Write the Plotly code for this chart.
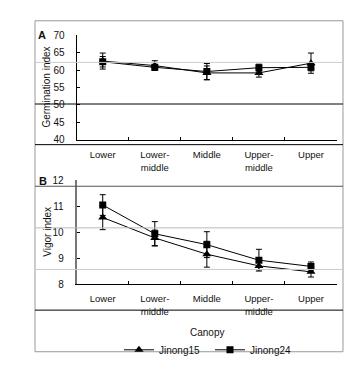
import plotly.graph_objects as go

# ---- data ----
categories = ["Lower", "Lower-<br>middle", "Middle", "Upper-<br>middle", "Upper"]
germ_jinong15 = [62.6, 61.3, 59.2, 59.2, 62.0]
germ_jinong15_err = [2.3, 1.4, 2.0, 1.2, 2.9]
germ_jinong24 = [62.4, 60.8, 59.6, 60.7, 60.8]
germ_jinong24_err = [1.5, 0.6, 2.3, 1.0, 1.0]
vigor_jinong15 = [10.57, 9.78, 9.15, 8.70, 8.47]
vigor_jinong15_err = [0.47, 0.30, 0.50, 0.15, 0.20]
vigor_jinong24 = [11.05, 9.94, 9.52, 8.92, 8.68]
vigor_jinong24_err = [0.40, 0.47, 0.50, 0.42, 0.17]
series_names = ["Jinong15", "Jinong24"]
germ_ticks = [40, 45, 50, 55, 60, 65, 70]
vigor_ticks = [8, 9, 10, 11, 12]

W, H = 355, 372
OFF = 8  # default page body margin
FONT = "Liberation Sans, Arial, sans-serif"


def px(x):
    return (x - OFF) / W


def py(y):
    return 1 - (y - OFF) / H


fig = go.Figure()

styles = [dict(symbol="triangle-up", size=8), dict(symbol="square", size=7)]

for i, (vals, errs) in enumerate([(germ_jinong15, germ_jinong15_err),
                                  (germ_jinong24, germ_jinong24_err)]):
    fig.add_trace(go.Scatter(
        x=categories, y=vals, mode="lines+markers", name=series_names[i],
        line=dict(color="black", width=1), marker=dict(color="black", **styles[i]),
        error_y=dict(type="data", array=errs, color="black", thickness=1, width=3),
        xaxis="x", yaxis="y", showlegend=True))

for i, (vals, errs) in enumerate([(vigor_jinong15, vigor_jinong15_err),
                                  (vigor_jinong24, vigor_jinong24_err)]):
    fig.add_trace(go.Scatter(
        x=categories, y=vals, mode="lines+markers", name=series_names[i],
        line=dict(color="black", width=1), marker=dict(color="black", **styles[i]),
        error_y=dict(type="data", array=errs, color="black", thickness=1, width=3),
        xaxis="x2", yaxis="y2", showlegend=False))

xdom = [px(76.7), px(337)]
common_x = dict(type="category", range=[-0.5, len(categories) - 0.5],
                tickson="boundaries", ticks="inside", ticklen=3,
                tickcolor="black", showline=True, linecolor="black", linewidth=1,
                showgrid=False, zeroline=False, tickfont=dict(size=9.5, color="#111"),
                ticklabelstandoff=6, fixedrange=True)
common_y = dict(ticks="inside", ticklen=3, tickcolor="black", showline=True,
                showgrid=False, zeroline=False, tickfont=dict(size=10, color="#111"),
                ticklabelstandoff=9)

fig.update_layout(
    width=W, height=H, margin=dict(l=0, r=0, t=0, b=0),
    paper_bgcolor="white", plot_bgcolor="white",
    font=dict(family=FONT, color="#111", size=10),
    xaxis=dict(domain=xdom, anchor="y", **common_x),
    yaxis=dict(domain=[py(138), py(30)], range=[40, 70], tickvals=germ_ticks,
               linecolor="black", linewidth=1, anchor="x", **common_y),
    xaxis2=dict(domain=xdom, anchor="y2", **common_x),
    yaxis2=dict(domain=[py(287), py(180)], range=[8, 12], tickvals=vigor_ticks,
                linecolor="#777", linewidth=2, anchor="x2", **common_y),
    legend=dict(orientation="h", x=px(210), y=py(355), xanchor="center", yanchor="middle",
                font=dict(size=10, color="#111"), bgcolor="rgba(0,0,0,0)",
                itemwidth=30, tracegroupgap=0, entrywidth=46, entrywidthmode="pixels"),
    showlegend=True,
)

# frame and overlay lines (scan artefacts)
def hline(y, color):
    return dict(type="line", xref="paper", yref="paper", x0=px(35), x1=px(343),
                y0=py(y), y1=py(y), line=dict(color=color, width=1))


shapes = [
    dict(type="rect", xref="paper", yref="paper", x0=px(35), x1=px(343), y0=py(357), y1=py(15),
         line=dict(color="#999", width=1)),
    hline(58, "#ccc"),
    hline(101, "black"),
    hline(143, "black"),
    hline(186, "#555"),
    hline(229, "#bbb"),
    hline(272, "#ccc"),
    hline(314, "black"),
]
fig.update_layout(shapes=shapes)


def label(text, x, y, size=10, angle=0):
    return dict(text=text, x=px(x), y=py(y), xref="paper", yref="paper", showarrow=False,
                textangle=angle, xanchor="center", yanchor="middle",
                font=dict(size=size, color="#111"))


annotations = [
    label("<b>A</b>", 42, 30, size=11),
    label("<b>B</b>", 43, 181, size=11),
    label("Germination index", 47, 84, angle=-90),
    label("Vigor index", 48, 233, angle=-90),
    label("Canopy", 207, 337),
]
fig.update_layout(annotations=annotations)

fig.write_html("out.html")
